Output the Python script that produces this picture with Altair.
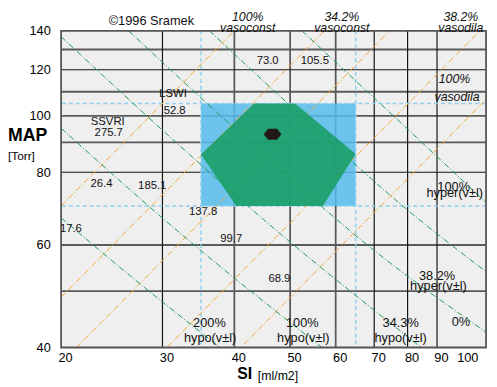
import altair as alt
import pandas as pd

# ---------------- data ----------------
X_MIN, X_MAX = 20, 109.5
Y_MIN, Y_MAX = 40, 140

si_ticks = [20, 30, 40, 50, 60, 70, 80, 90, 100]
map_ticks = [40, 60, 80, 100, 120, 140]
si_grid_dark = [30, 70, 80, 90]
si_grid_gray = [40, 50, 60]
map_grid_dark = [120, 80]
map_grid_gray = [130, 110, 100, 90, 60, 50]

norm_si = [35, 65]
norm_map = [70, 105]

hex_si = [35, 43.3, 51, 65, 57, 40.3]
hex_map = [85.8, 105, 105, 86, 70, 70]

dot_si = [46.6]
dot_map = [93.0]

# orange SSVRI iso-lines (straight): MAP / SI ratio of each line
ssvri_ratio = [3.5, 2.44, 1.88, 1.31, 0.975]

# green LSWI iso-lines: points (SI, MAP)
lswi_id = ([17.6] * 3 + [26.4] * 3 + [39.3] * 4 + [52.8] * 4 + [73.0] * 4
           + [105.5] * 3)
lswi_si = [20, 27, 37.8,
           20, 33, 56.8,
           20, 30, 45, 84.5,
           26.2, 40, 70, 109.5,
           36.2, 55, 80, 109.5,
           52.4, 75, 109.5]
lswi_map = [66.8, 52.1, 40.0,
            95.2, 61.6, 40.0,
            136.8, 94.5, 66.3, 40.0,
            140, 95.2, 58.7, 42.5,
            140, 95.6, 68.9, 54.0,
            140, 100.7, 71.0]

lab_text = ["LSWI", "52.8", "SSVRI", "275.7", "73.0", "105.5", "26.4", "185.1",
            "137.8", "17.6", "99.7", "68.9"]
lab_si = [31.3, 31.5, 24.1, 24.2, 45.7, 55.2, 23.5, 28.8, 35.3, 20.8, 39.5, 47.9]
lab_map = [109, 102, 97.5, 93.5, 124, 124, 76.5, 75.8, 68.4, 63.8, 61.5, 52.5]

pct_text = ["100%", "vasoconst", "34.2%", "vasoconst", "38.2%", "vasodila",
            "100%", "vasodila"]
pct_si = [42.2, 42.2, 61.5, 61.5, 99, 99, 96.5, 97.5]
pct_map = [147.7, 141.3, 147.7, 141.3, 147.7, 141.3, 115.5, 107.7]

hyp_text = ["200%", "hypo(v±l)", "100%", "hypo(v±l)", "34.3%", "hypo(v±l)", "0%",
            "38.2%", "hyper(v±l)", "100%", "hyper(v±l)"]
hyp_si = [36.2, 36.3, 52.5, 52.7, 77.8, 77.8, 99, 90, 90.5, 96.2, 96.6]
hyp_map = [44.0, 41.6, 44.0, 41.6, 44.0, 41.6, 44.3, 53.1, 51.0, 75.5, 73.6]

# ---------------- tables ----------------
xs = alt.Scale(type="log", domain=[X_MIN, X_MAX], nice=False, zero=False)
ys = alt.Scale(type="log", domain=[Y_MIN, Y_MAX], nice=False, zero=False)

W, H = 432, 322

AX = alt.Axis(values=si_ticks, title=None, grid=False, ticks=False,
              domain=False, labelFontSize=13, labelColor="#000",
              labelFont="Liberation Sans", labelPadding=4,
              labelOffset=4, format="d", labelFlush=False)
AY = alt.Axis(values=map_ticks, title=None, grid=False, ticks=False,
              domain=False, labelFontSize=13, labelColor="#000",
              labelFont="Liberation Sans", labelPadding=11,
              format="d", labelFlush=False)

orange_rows = []
for i, r in enumerate(ssvri_ratio):
    for s in (X_MIN, X_MAX):
        orange_rows.append({"id": i, "si": s, "map": r * s})
orange_df = pd.DataFrame(orange_rows)
green_df = pd.DataFrame({"id": lswi_id, "si": lswi_si, "map": lswi_map,
                         "o": range(len(lswi_si))})

hex_df = pd.DataFrame({"si": hex_si, "map": hex_map, "o": range(len(hex_si))})
hex_df = pd.concat([hex_df, hex_df.iloc[[0]].assign(o=len(hex_si))])
rect_df = pd.DataFrame({"si": [norm_si[0]], "si2": [norm_si[1]],
                        "map": [norm_map[0]], "map2": [norm_map[1]]})


def X():
    return alt.X("si:Q", scale=xs, axis=AX)


def Y():
    return alt.Y("map:Q", scale=ys, axis=AY)


bg = alt.Chart(pd.DataFrame({"a": [0]})).mark_rect(color="#efefef").encode(
    x=alt.value(0), x2=alt.value(W), y=alt.value(0), y2=alt.value(H))


def vrules(vals, color, w):
    return alt.Chart(pd.DataFrame({"si": vals})).mark_rule(
        color=color, strokeWidth=w).encode(x=X())


def hrules(vals, color, w):
    return alt.Chart(pd.DataFrame({"map": vals})).mark_rule(
        color=color, strokeWidth=w).encode(y=Y())


grid = [vrules(si_grid_gray, "#5a5a5a", 1.8), hrules(map_grid_gray, "#5a5a5a", 1.8),
        vrules(si_grid_dark, "#151515", 1.2), hrules(map_grid_dark, "#151515", 1.2)]

rect = alt.Chart(rect_df).mark_rect(color="#55bbeb", opacity=0.85).encode(
    x=X(), x2="si2:Q", y=Y(), y2="map2:Q")

bl_v = alt.Chart(pd.DataFrame({"si": norm_si})).mark_rule(
    color="#8fd0f0", strokeWidth=1.5, strokeDash=[4, 3]).encode(x=X())
bl_h = alt.Chart(pd.DataFrame({"map": norm_map})).mark_rule(
    color="#8fd0f0", strokeWidth=1.5, strokeDash=[4, 3]).encode(y=Y())

orange = alt.Chart(orange_df).mark_line(
    color="#f5a732", strokeWidth=1, strokeDash=[6, 2, 1, 2], clip=True).encode(
    x=X(), y=Y(), detail="id:N")
green = alt.Chart(green_df).mark_line(
    color="#1c9a5a", strokeWidth=1, strokeDash=[6, 2, 1, 2], clip=True,
    interpolate="monotone").encode(
    x=X(), y=Y(), detail="id:N", order="o:Q")

hexa = alt.Chart(hex_df).mark_line(
    filled=True, color="#159c60", interpolate="linear", opacity=0.85).encode(
    x=X(), y=Y(), order="o:Q")

dot = alt.Chart(pd.DataFrame({"si": dot_si, "map": dot_map})).mark_point(
    shape="M-1,0L-0.5,-0.62L0.5,-0.62L1,0L0.5,0.62L-0.5,0.62Z",
    size=324, filled=True, color="#231815", opacity=1).encode(x=X(), y=Y())

frame = alt.Chart(pd.DataFrame({"a": [0]})).mark_rect(
    fill=None, stroke="#555", strokeWidth=1.8).encode(
    x=alt.value(0), x2=alt.value(W), y=alt.value(0), y2=alt.value(H))


def txt(tx, sx, my, size=11.5, italic=False):
    df = pd.DataFrame({"t": tx, "si": sx, "map": my})
    return alt.Chart(df).mark_text(
        fontSize=size, font="Liberation Sans", color="#111",
        fontStyle="italic" if italic else "normal",
        align="center", baseline="middle").encode(x=X(), y=Y(), text="t:N")


labels = txt(lab_text, lab_si, lab_map, 11.5)
pcts = txt(pct_text, pct_si, pct_map, 12.5, italic=True)
hyps = txt(hyp_text, hyp_si, hyp_map, 13)
copy = txt(["©1996 Sramek"], [28.7], [145.5], 13)


def title_text(t, x, y, size, bold=False):
    return alt.Chart(pd.DataFrame({"t": [t]})).mark_text(
        fontSize=size, fontWeight="bold" if bold else "normal",
        font="Liberation Sans", align="left", baseline="middle",
        color="#000").encode(x=alt.value(x), y=alt.value(y), text="t:N")


t1 = title_text("MAP", -54, 107, 18, True)
t2 = title_text("[Torr]", -54, 127, 12)
t3 = title_text("SI", 179, 349, 16, True)
t4 = title_text("[ml/m2]", 200, 351, 12.5)

chart = alt.layer(
    bg, *grid, rect, bl_v, bl_h, orange, green, hexa, dot, frame,
    labels, pcts, hyps, copy, t1, t2, t3, t4
).properties(
    width=W, height=H,
    autosize=alt.AutoSizeParams(type="none"),
    padding={"left": 54, "top": 20, "right": 3, "bottom": 37},
    background="white",
).configure_view(stroke=None)

chart.save("out.html", embed_options={"renderer": "svg", "actions": False})
